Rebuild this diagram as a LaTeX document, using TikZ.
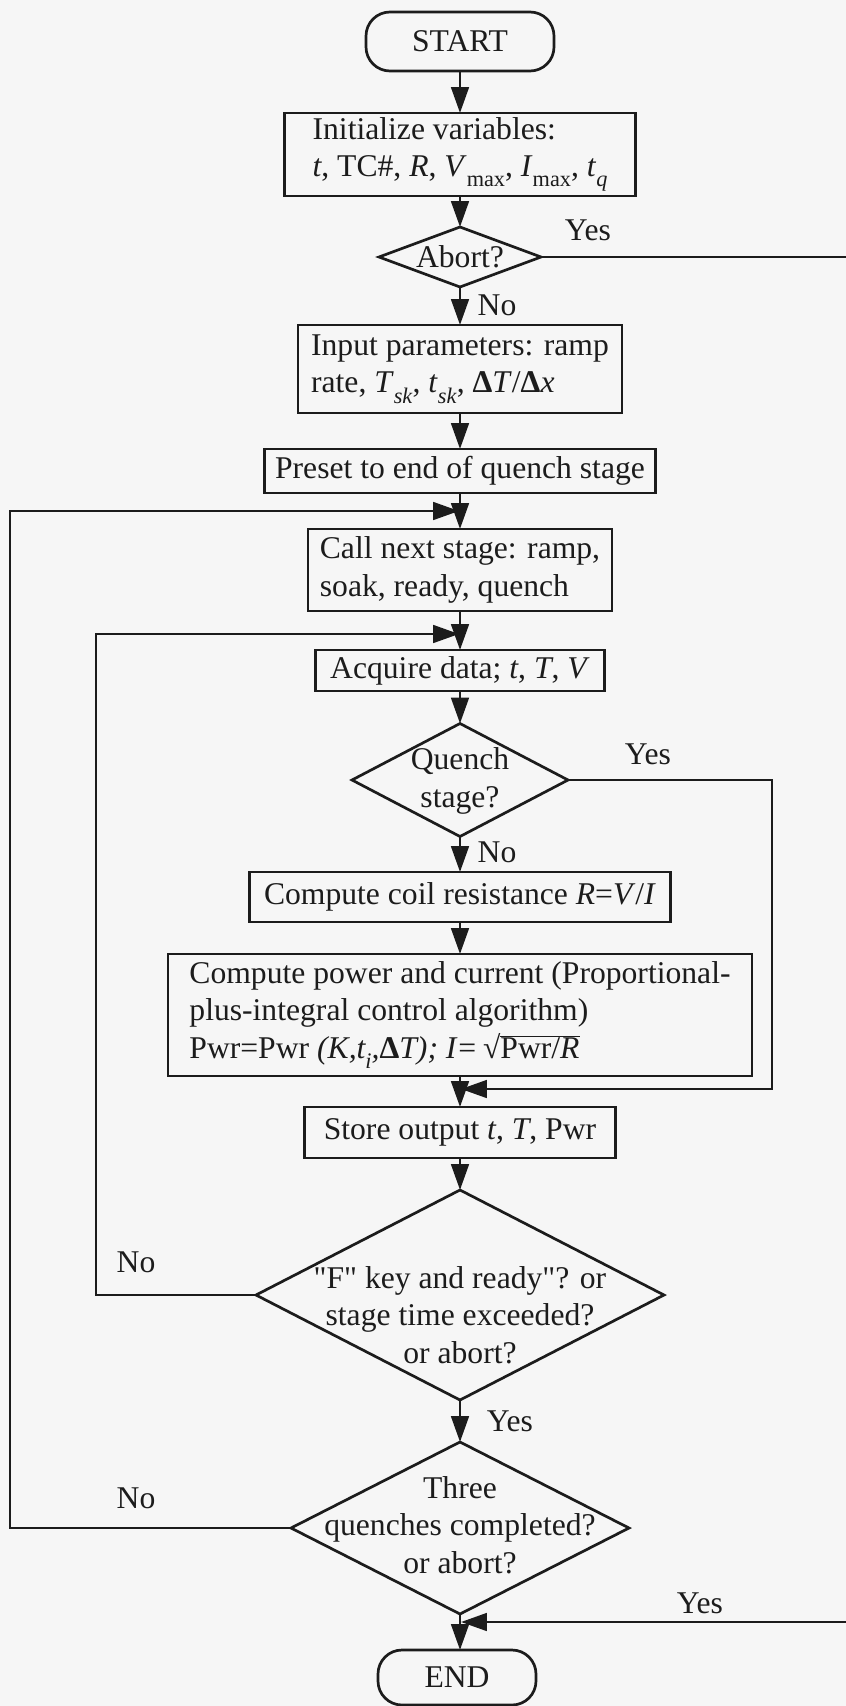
\documentclass[tikz,border=0pt]{standalone}
\usepackage{fontspec}
\setmainfont{Liberation Serif}
\usetikzlibrary{arrows.meta,shapes.geometric}
\definecolor{paper}{RGB}{246,246,246}
\definecolor{ink}{RGB}{28,28,28}
% lowered, smaller subscript in the text font
\newcommand{\sbs}[1]{\raisebox{-0.32em}{\fontsize{19pt}{19pt}\selectfont #1}}
% bar over a text group (square-root vinculum)
\newcommand{\ovl}[1]{\ensuremath{\overline{\hbox{#1}}}}
\begin{document}
\begin{tikzpicture}[x=0.03cm, y=-0.03cm,
  every node/.style={font=\fontsize{27pt}{32pt}\selectfont, text=ink, inner sep=0pt, outer sep=0pt},
  pbox/.style 2 args={draw=ink, line width=2.3pt, minimum width=#1*0.03cm, minimum height=#2*0.03cm},
  tbox/.style 2 args={pbox={#1}{#2}, rounded corners=0.72cm},
  dbox/.style 2 args={draw=ink, line width=2.3pt, shape=diamond, minimum width=#1*0.03cm, minimum height=#2*0.03cm},
  flow/.style={draw=ink, line width=2.3pt, -{Triangle[length=22pt,width=15pt]}}]

\fill[paper] (0,0) rectangle (846,1706);
\useasboundingbox (0,0) rectangle (846,1706);

% main column
\node[tbox={188}{59}] (start) at (460,41.5) {START};
\node[pbox={351}{83}, align=left] (init) at (460,154.5)
  {Initialize variables:\\\textit{t}, TC\#, \textit{R}, \textit{V}\sbs{max}, \textit{I}\sbs{max}, \textit{t}\sbs{\textit{q}}};
\node[dbox={162}{60}] (abort) at (460,257) {};
\node (aborttxt) at (460,257) {Abort?};
\node[pbox={324}{88}, align=left] (input) at (460,369)
  {Input parameters: ramp\\rate, \textit{T}\sbs{\textit{sk}}, \textit{t}\sbs{\textit{sk}}, \textbf{Δ}\textit{T}/\textbf{Δ}\textit{x}};
\node[pbox={391}{44}] (preset) at (460,471) {Preset to end of quench stage};
\node[pbox={304}{82}, align=left] (call) at (460,570)
  {Call next stage: ramp,\\soak, ready, quench};
\node[pbox={289}{41}] (acquire) at (460,670.5) {Acquire data; \textit{t}, \textit{T}, \textit{V}};
\node[dbox={216}{113}] (quench) at (460,780) {};
\node[align=center] (quenchtxt) at (460,781) {Quench\\stage?};
\node[pbox={421}{50}] (coil) at (460,897) {Compute coil resistance \textit{R}=\textit{V}/\textit{I}};
\node[pbox={584}{122}, align=left] (power) at (460,1015)
  {Compute power and current (Proportional-\\plus-integral control algorithm)\\
   Pwr=Pwr \textit{(K,t\sbs{i},}\textbf{Δ}\textit{T); I=}\,√\ovl{Pwr/\textit{R}}};
\node[pbox={311}{51}] (store) at (460,1132.5) {Store output \textit{t}, \textit{T}, Pwr};
\node[dbox={408}{210}] (keyq) at (460,1295) {};
\node[align=center] (keyqtxt) at (460,1315)
  {\textquotedbl F\textquotedbl{} key and ready\textquotedbl? or\\stage time exceeded?\\or abort?};
\node[dbox={338}{172}] (three) at (460,1528) {};
\node[align=center] (threetxt) at (460,1525)
  {Three\\quenches completed?\\or abort?};
\node[tbox={158}{55}] (end) at (457,1677.5) {END};

% branch labels
\node (yesA) at (588,230) {Yes};
\node (noA) at (497,305) {No};
\node (yesQ) at (648,754) {Yes};
\node (noQ) at (497,852) {No};
\node (noK) at (136,1262) {No};
\node (yesK) at (510,1421) {Yes};
\node (noT) at (136,1498) {No};
\node (yesT) at (700,1603) {Yes};

% junction points and return routes
\coordinate (j1) at (459,511);
\coordinate (j2) at (459,634);
\coordinate (j3) at (461,1089);
\coordinate (j4) at (461,1622);
\coordinate (outer) at (10,511);
\coordinate (inner) at (96,634);
\coordinate (qcol) at (772,1089);
\coordinate (acol) at (853,1622);

% straight-through flow
\draw[flow] (start) -- (init);
\draw[flow] (init) -- (abort);
\draw[flow] (abort) -- (input);
\draw[flow] (input) -- (preset);
\draw[flow] (preset) -- (call);
\draw[flow] (call) -- (acquire);
\draw[flow] (acquire) -- (quench);
\draw[flow] (quench) -- (coil);
\draw[flow] (coil) -- (power);
\draw[flow] (power) -- (store);
\draw[flow] (store) -- (keyq);
\draw[flow] (keyq) -- (three);
\draw[flow] (three.south) -- (three.south |- end.north);

% loops and bypasses
\draw[flow] (three.west) -| (outer) -- (j1);
\draw[flow] (keyq.west) -| (inner) -- (j2);
\draw[flow] (quench.east) -| (qcol) -- (j3);
\draw[flow] (abort.east) -| (acol) -- (j4);
\end{tikzpicture}
\end{document}
